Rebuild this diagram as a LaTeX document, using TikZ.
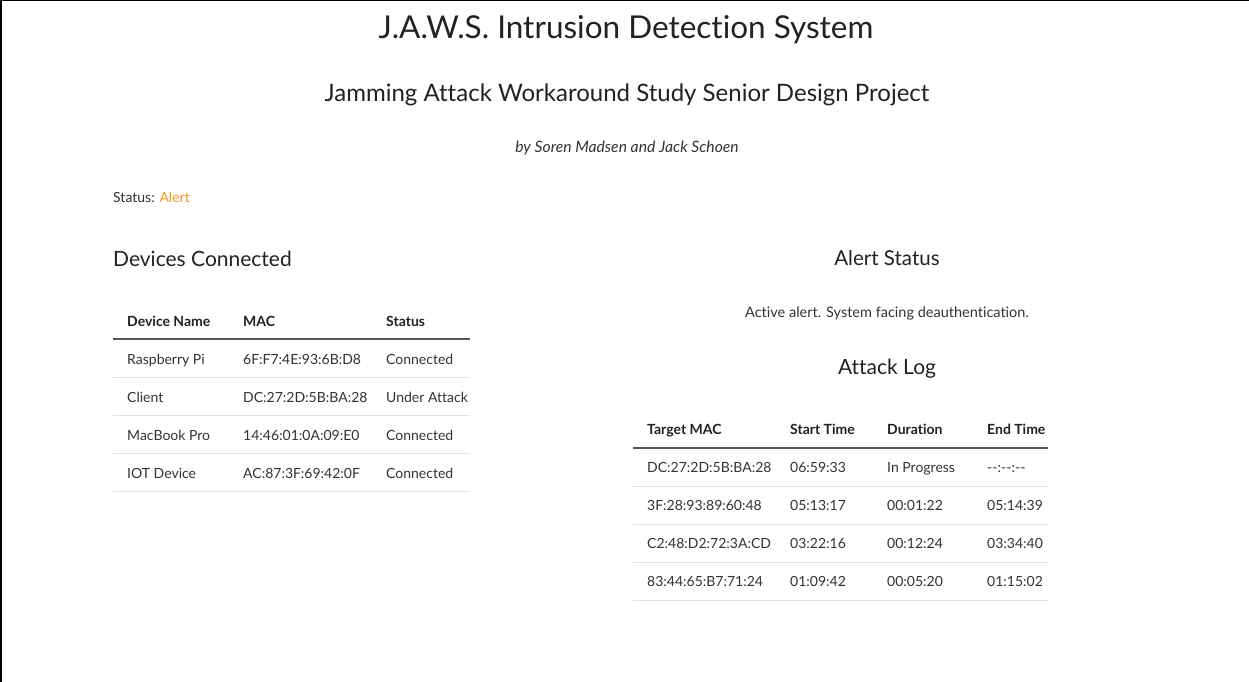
\documentclass[tikz,border=0pt]{standalone}
\usepackage{fontspec}
\setmainfont{Lato}[Ligatures=NoCommon]
\definecolor{ink}{HTML}{222222}
\definecolor{body}{HTML}{333333}
\definecolor{alertc}{HTML}{F7941D}
\definecolor{rule}{HTML}{555555}
\definecolor{lightrule}{HTML}{E4E4E4}
\tikzset{
  txt/.style={inner sep=0pt, anchor=base west, text=body, font=\fontsize{14}{16}\selectfont},
  th/.style={inner sep=0pt, anchor=base west, text=ink, font=\fontsize{14}{16}\selectfont\bfseries},
  ctr/.style={inner sep=0pt, anchor=base, text=ink},
  hrule/.style={draw=rule, line width=1.3pt},
  rowrule/.style={draw=lightrule, line width=1pt},
}
\begin{document}
\begin{tikzpicture}[x=1pt,y=-1pt]
\useasboundingbox (0,0) rectangle (1249,682);
\fill[white] (0,0) rectangle (1249,682);
\draw[black, line width=2pt] (1,682) -- (1,0) -- (1249,0);

% headings
\node[ctr, font=\fontsize{31.5}{36}\selectfont] (title) at (626,39) {J.A.W.S. Intrusion Detection System};
\node[ctr, font=\fontsize{24}{28}\selectfont] (sub) at (627,102) {Jamming Attack Workaround Study Senior Design Project};
\node[ctr, text=body, font=\fontsize{15.7}{18}\selectfont\itshape] (by) at (627,152) {by Soren Madsen and Jack Schoen};
\node[txt] (status) at (113,202) {Status: \textcolor{alertc}{Alert}};

% left table
\node[txt, text=ink, font=\fontsize{21}{24}\selectfont] (devh) at (113,266) {Devices Connected};
\node[th] (h1) at (127,326) {Device Name};
\node[th] (h2) at (243,326) {MAC};
\node[th] (h3) at (386,326) {Status};
\coordinate (la) at (113,339); \coordinate (lb) at (470,339);
\draw[hrule] (la) -- (lb);
\foreach \y/\a/\b/\c [count=\i] in {364/Raspberry Pi/6F:F7:4E:93:6B:D8/Connected,
                                     402/Client/DC:27:2D:5B:BA:28/Under Attack,
                                     440/MacBook Pro/14:46:01:0A:09:E0/Connected,
                                     478/IOT Device/AC:87:3F:69:42:0F/Connected}{
  \node[txt] (d\i a) at (127,\y) {\a};
  \node[txt] (d\i b) at (243,\y) {\b};
  \node[txt] (d\i c) at (386,\y) {\c};
  \coordinate (r\i a) at (113,\y+13.5); \coordinate (r\i b) at (470,\y+13.5);
  \draw[rowrule] (r\i a) -- (r\i b);
}

% right side
\node[ctr, font=\fontsize{20.5}{24}\selectfont] (alh) at (887,265) {Alert Status};
\node[ctr, text=body, font=\fontsize{14.5}{17}\selectfont] (alt) at (887,317) {Active alert. System facing deauthentication.};
\node[ctr, font=\fontsize{21}{24}\selectfont] (logh) at (887,374) {Attack Log};

\node[th] (t1) at (647,434) {Target MAC};
\node[th] (t2) at (790,434) {Start Time};
\node[th] (t3) at (887,434) {Duration};
\node[th] (t4) at (987,434) {End Time};
\coordinate (ta) at (633,448); \coordinate (tb) at (1048,448);
\draw[hrule] (ta) -- (tb);
\foreach \y/\a/\b/\c/\d [count=\i] in {472/DC:27:2D:5B:BA:28/06:59:33/In Progress/{-}{-}:{-}{-}:{-}{-},
                                        510/3F:28:93:89:60:48/05:13:17/00:01:22/05:14:39,
                                        548/C2:48:D2:72:3A:CD/03:22:16/00:12:24/03:34:40,
                                        586/83:44:65:B7:71:24/01:09:42/00:05:20/01:15:02}{
  \node[txt] (g\i a) at (647,\y) {\a};
  \node[txt] (g\i b) at (790,\y) {\b};
  \node[txt] (g\i c) at (887,\y) {\c};
  \node[txt] (g\i d) at (987,\y) {\d};
  \coordinate (s\i a) at (633,\y+14); \coordinate (s\i b) at (1048,\y+14);
  \draw[rowrule] (s\i a) -- (s\i b);
}
\end{tikzpicture}
\end{document}
